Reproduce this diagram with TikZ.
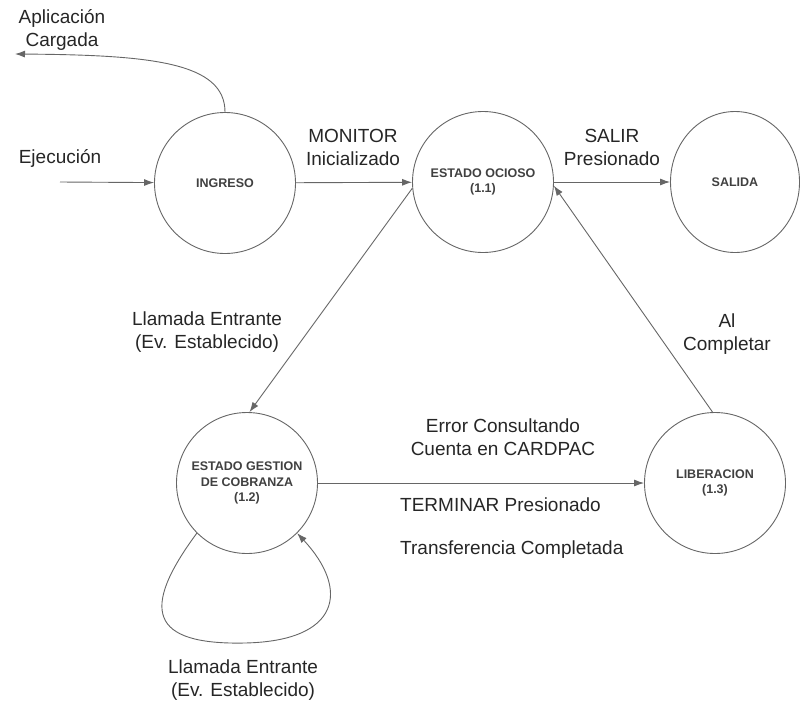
\documentclass[tikz,border=0pt]{standalone}
\usepackage{fontspec}
\setmainfont{Liberation Sans}
\usetikzlibrary{arrows.meta,shapes.geometric}

\begin{document}
\begin{tikzpicture}[x=1pt, y=-1pt,
  state/.style = {shape=circle, draw=black!60, line width=0.9pt,
    minimum size=141pt, inner sep=0pt, align=center, text=black!75,
    font=\fontsize{12.5}{15.5}\selectfont\bfseries},
  lbl/.style = {inner sep=0pt, align=center, text=black!85,
    font=\fontsize{19}{23}\selectfont},
  edge/.style = {-{Latex[length=10pt,width=7pt]}, draw=black!60, line width=0.9pt}
  ]
  \useasboundingbox (0,0) rectangle (802,702);

  \node [state] (ingreso) at (225,183) {INGRESO};
  \node [state] (ocioso) at (483,182) {ESTADO OCIOSO\\(1.1)};
  \node [state, shape=ellipse, minimum width=129pt, minimum height=141pt] (salida) at (735,182) {SALIDA};
  \node [state] (gestion) at (247,483) {ESTADO GESTION\\DE COBRANZA\\(1.2)};
  \node [state] (liberacion) at (715,483) {LIBERACION\\(1.3)};

  \coordinate (ejec) at (60,182);
  \coordinate (cargada) at (15,54);

  \draw [edge] (ejec) -- (ingreso);
  \draw [edge] (ingreso.90) .. controls (225,62) and (150,55) .. (cargada);
  \draw [edge] (ingreso) -- (ocioso);
  \draw [edge] (ocioso) -- (salida);
  \draw [edge] (ocioso.185) -- (gestion.88);
  \draw [edge] (liberacion.92) -- (ocioso.357);
  \draw [edge] (gestion) -- (liberacion);
  \draw [edge] (gestion.225) .. controls (140,610) and (150,645) .. (245,643)
    .. controls (340,641) and (350,590) .. (gestion.315);

  \node [lbl] (lejec) at (60,158) {Ejecución};
  \node [lbl] (lcargada) at (62,30) {Aplicación\\Cargada};
  \node [lbl] (lmonitor) at (353,147) {MONITOR\\Inicializado};
  \node [lbl] (lsalir) at (612,147) {SALIR\\Presionado};
  \node [lbl] (lllamada) at (207,332) {Llamada Entrante\\(Ev. Establecido)};
  \node [lbl] (lcompletar) at (727,334) {Al\\Completar};
  \node [lbl] (lerror) at (503,437) {Error Consultando\\Cuenta en CARDPAC};
  \node [lbl, anchor=west] (lterminar) at (400,505) {TERMINAR Presionado};
  \node [lbl, anchor=west] (ltransf) at (400,550) {Transferencia Completada};
  \node [lbl] (lbucle) at (243,680) {Llamada Entrante\\(Ev. Establecido)};
\end{tikzpicture}
\end{document}
